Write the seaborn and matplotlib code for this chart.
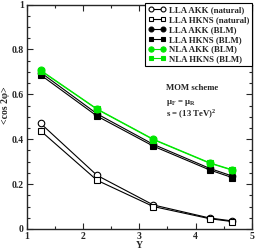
import matplotlib
matplotlib.use("Agg")
import matplotlib.pyplot as plt
import numpy as np
import pandas as pd
import seaborn as sns
from matplotlib.ticker import MultipleLocator

# rapidity bins
rapidity = [1.25, 2.25, 3.25, 4.25, 4.65]

lla_akk_natural = [0.470, 0.239, 0.107, 0.049, 0.036]
lla_hkns_natural = [0.437, 0.217, 0.100, 0.046, 0.033]
lla_akk_blm = [0.697, 0.513, 0.377, 0.270, 0.236]
lla_hkns_blm = [0.686, 0.503, 0.369, 0.263, 0.229]
nla_akk_blm = [0.707, 0.535, 0.400, 0.295, 0.264]
nla_hkns_blm = [0.705, 0.533, 0.398, 0.293, 0.262]

series_labels = ["LLA AKK (natural)", "LLA HKNS (natural)", "LLA AKK (BLM)",
                 "LLA HKNS (BLM)", "NLA AKK (BLM)", "NLA HKNS (BLM)"]
x_ticks = [1, 2, 3, 4, 5]
y_ticks = [0, 0.2, 0.4, 0.6, 0.8, 1.0]
y_tick_labels = ["0", "0.2", "0.4", "0.6", "0.8", "1"]

sns.set_style("ticks")
plt.rcParams["font.family"] = ["Liberation Serif", "DejaVu Serif"]
plt.rcParams["font.weight"] = "bold"
plt.rcParams["mathtext.fontset"] = "custom"
plt.rcParams["mathtext.rm"] = "Liberation Serif:bold"
plt.rcParams["mathtext.bf"] = "Liberation Serif:bold"

green = "#00e600"
styles = [
    (lla_akk_natural, "o", "black", "white", 4.7),
    (lla_hkns_natural, "s", "black", "white", 4.0),
    (lla_akk_blm, "o", "black", "black", 4.7),
    (lla_hkns_blm, "s", "black", "black", 4.0),
    (nla_hkns_blm, "s", green, green, 4.0),
    (nla_akk_blm, "o", green, green, 5.0),
]
order = [0, 1, 2, 3, 5, 4]

fig = plt.figure(figsize=(2.56, 2.5), dpi=100)
ax = fig.add_axes([0.104, 0.084, 0.88, 0.898])

handles = {}
for (vals, mk, col, fc, ms), idx in zip(styles, order):
    df = pd.DataFrame({"Y": rapidity, "cos": vals})
    sns.lineplot(data=df, x="Y", y="cos", ax=ax, color=col, marker=mk,
                 markerfacecolor=fc, markeredgecolor=col, markersize=ms,
                 markeredgewidth=0.8, linewidth=0.8, label=series_labels[idx])
    handles[idx] = ax.get_lines()[-1]

ax.set_xticks(x_ticks, [str(t) for t in x_ticks])
ax.set_yticks(y_ticks, y_tick_labels)
ax.set_xlim(1, 5)
ax.set_ylim(0, 1)
ax.xaxis.set_minor_locator(MultipleLocator(0.5))
ax.yaxis.set_minor_locator(MultipleLocator(0.05))
ax.tick_params(which="both", direction="in", top=True, right=True,
               labelsize=7, width=0.8, pad=2)
ax.tick_params(which="major", length=4)
ax.tick_params(which="minor", length=2)
for s in ax.spines.values():
    s.set_linewidth(1.0)

ax.set_xlabel("Y", fontsize=7, fontweight="bold", labelpad=0)
ax.set_ylabel("<cos 2φ>", fontsize=7, fontweight="bold")
ax.yaxis.set_label_coords(-0.075, 0.55)

leg = ax.legend([handles[i] for i in range(6)], series_labels, loc="upper right",
                bbox_to_anchor=(1.0, 1.005), numpoints=2, handlelength=2.0,
                handletextpad=0.4, borderpad=0.3, labelspacing=0.2,
                markerscale=0.75, fontsize=6.3, frameon=True, fancybox=False,
                edgecolor="black", framealpha=1, borderaxespad=0)
leg.get_frame().set_linewidth(0.8)
for t in leg.get_texts():
    t.set_fontweight("bold")

ax.text(0.62, 0.627, "MOM scheme", transform=ax.transAxes, fontsize=6.3,
        fontweight="bold", va="center")
ax.text(0.62, 0.562, r"μ$_\mathrm{F}$ = μ$_\mathrm{R}$", transform=ax.transAxes,
        fontsize=6.3, fontweight="bold", va="center")
ax.text(0.62, 0.512, r"s = (13 TeV)$^\mathrm{2}$", transform=ax.transAxes,
        fontsize=6.3, fontweight="bold", va="center")

fig.savefig("out.png", dpi=100)
